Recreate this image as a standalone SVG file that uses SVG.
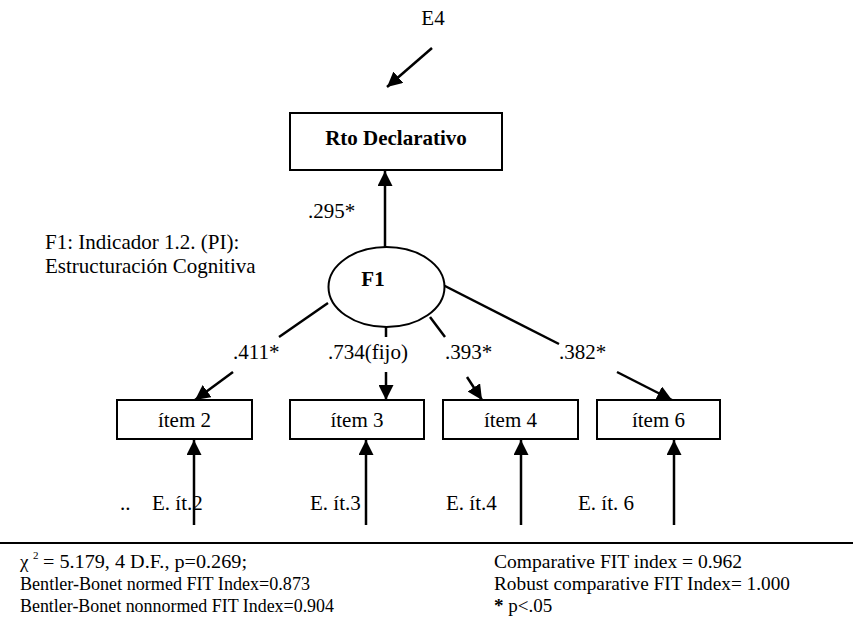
<svg xmlns="http://www.w3.org/2000/svg" width="853" height="628" viewBox="0 0 853 628">
<style>
.box{fill:#fff;stroke:#000;stroke-width:2}
.ln{stroke:#000;stroke-width:2.5;fill:none}
.ar{stroke:#000;stroke-width:2.5;fill:none;marker-end:url(#ah)}
</style>
<defs>
<marker id="ah" viewBox="0 0 10 10" markerWidth="15" markerHeight="15" markerUnits="userSpaceOnUse" refX="10" refY="5" orient="auto">
<path d="M0,0 L10,5 L0,10 z" fill="#000"/>
</marker>
</defs>
<rect width="853" height="628" fill="#fff"/>
<g id="connectors">
<line class="ar" x1="432" y1="48" x2="387" y2="87"/>
<line class="ar" x1="385" y1="247" x2="385" y2="171"/>
<line class="ln" x1="328" y1="303" x2="279" y2="337"/>
<line class="ar" x1="233" y1="372" x2="195" y2="400"/>
<line class="ln" x1="386" y1="326" x2="386" y2="337"/>
<line class="ar" x1="386" y1="372" x2="386" y2="400"/>
<line class="ln" x1="430" y1="317" x2="445" y2="337"/>
<line class="ar" x1="467" y1="377" x2="482" y2="400"/>
<line class="ln" x1="443" y1="285" x2="559" y2="344"/>
<line class="ar" x1="617" y1="372" x2="672" y2="400"/>
<line class="ar" x1="194" y1="525" x2="194" y2="440"/>
<line class="ar" x1="366" y1="525" x2="366" y2="440"/>
<line class="ar" x1="521" y1="525" x2="521" y2="440"/>
<line class="ar" x1="674" y1="525" x2="674" y2="440"/>
</g>
<g id="loadings" font-family="Times New Roman, Liberation Serif, serif" font-size="21">
<text x="308" y="218">.295*</text>
<text x="233" y="359">.411*</text>
<text x="328" y="359">.734(fijo)</text>
<text x="445" y="359">.393*</text>
<text x="559" y="359">.382*</text>
</g>
<g id="E4" font-family="Times New Roman, Liberation Serif, serif" font-size="21"><text x="433" y="25" text-anchor="middle">E4</text></g>
<g id="rto"><rect class="box" x="290" y="113" width="212" height="57"/><text font-family="Times New Roman, Liberation Serif, serif" font-size="21" font-weight="bold" x="396" y="145" text-anchor="middle">Rto Declarativo</text></g>
<g id="F1"><ellipse class="box" cx="386.5" cy="287" rx="58" ry="40"/><text font-family="Times New Roman, Liberation Serif, serif" font-size="21" font-weight="bold" x="373" y="286" text-anchor="middle">F1</text></g>
<g id="F1label" font-family="Times New Roman, Liberation Serif, serif" font-size="21"><text x="45" y="249">F1: Indicador 1.2. (PI):</text><text x="45" y="273">Estructuración Cognitiva</text></g>
<g id="item2"><rect class="box" x="117" y="400" width="135" height="39"/><text font-family="Times New Roman, Liberation Serif, serif" font-size="21" x="184.5" y="427" text-anchor="middle">ítem 2</text></g>
<g id="item3"><rect class="box" x="290" y="400" width="134" height="39"/><text font-family="Times New Roman, Liberation Serif, serif" font-size="21" x="357" y="427" text-anchor="middle">ítem 3</text></g>
<g id="item4"><rect class="box" x="443" y="400" width="135" height="39"/><text font-family="Times New Roman, Liberation Serif, serif" font-size="21" x="510.5" y="427" text-anchor="middle">ítem 4</text></g>
<g id="item6"><rect class="box" x="597" y="400" width="123" height="39"/><text font-family="Times New Roman, Liberation Serif, serif" font-size="21" x="658.5" y="427" text-anchor="middle">ítem 6</text></g>
<g id="errors" font-family="Times New Roman, Liberation Serif, serif" font-size="21">
<text x="120" y="510">..</text>
<text x="152" y="510">E. ít.2</text>
<text x="310" y="510">E. ít.3</text>
<text x="446" y="510">E. ít.4</text>
<text x="578" y="510">E. ít. 6</text>
</g>
<g id="footer" font-family="Times New Roman, Liberation Serif, serif" font-size="19">
<line x1="0" y1="543" x2="853" y2="543" stroke="#000" stroke-width="2"/>
<text x="20" y="568">χ</text>
<text font-size="11" x="33" y="559">2</text>
<text x="43" y="568" textLength="204" lengthAdjust="spacingAndGlyphs">= 5.179, 4 D.F.,  p=0.269;</text>
<text x="20" y="590" textLength="290" lengthAdjust="spacingAndGlyphs">Bentler-Bonet normed  FIT Index=0.873</text>
<text x="20" y="612" textLength="314" lengthAdjust="spacingAndGlyphs">Bentler-Bonet nonnormed FIT Index=0.904</text>
<text x="494" y="568" textLength="248" lengthAdjust="spacingAndGlyphs">Comparative FIT index = 0.962</text>
<text x="494" y="590" textLength="296" lengthAdjust="spacingAndGlyphs">Robust comparative FIT Index= 1.000</text>
<text x="494" y="612"><tspan font-weight="bold">*</tspan>  p&lt;.05</text>
</g>
</svg>
